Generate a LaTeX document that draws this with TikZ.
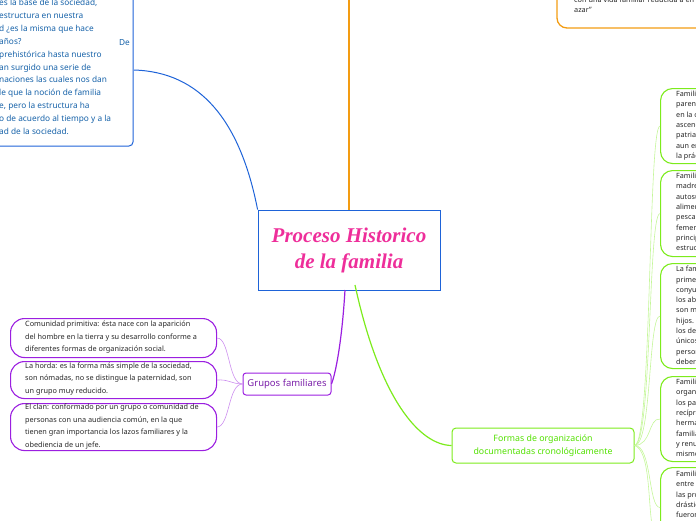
\documentclass[tikz,border=0pt]{standalone}
\usepackage{fontspec}
\setmainfont{Noto Sans}
\newfontfamily\titlefont{Liberation Serif}
\definecolor{bl}{HTML}{1E63D8}
\definecolor{bltxt}{HTML}{1561A8}
\definecolor{orn}{HTML}{F39C12}
\definecolor{pur}{HTML}{9B1FE0}
\definecolor{purtxt}{HTML}{7A1FA8}
\definecolor{grn}{HTML}{7CEB1C}
\definecolor{grntxt}{HTML}{52E000}
\definecolor{pink}{HTML}{EE2E9A}
\tikzset{
 lf/.style={anchor=west,inner sep=0,font=\fontsize{7.3}{12.5}\selectfont,align=left,text=black!85},
 rf/.style={anchor=north west,inner sep=0,font=\fontsize{7.2}{10.3}\selectfont,align=left,text=black!85},
 pbox/.style={draw=pur,line width=1.1pt,rounded corners=14pt},
 gbox/.style={draw=grn,line width=1.1pt,rounded corners=12pt},
 plink/.style={pur!50,line width=0.6pt},
 glink/.style={grn!45,line width=0.6pt},
}
\begin{document}
\begin{tikzpicture}[x=1pt,y=-1pt]
\useasboundingbox (0,0) rectangle (696,520);
\clip (0,0) rectangle (696,520);
% top-left blue box
\draw[bl,line width=1pt,rounded corners=4pt] (-150,-20) rectangle (133,146);
\node[anchor=north west,inner sep=0,text=bltxt,font=\bfseries\fontsize{8.3}{12.9}\selectfont,align=left] (bt) at (-1,-1) {es la base de la sociedad,\\ estructura en nuestra\\ d ¿es la misma que hace\\ años?\\ prehistórica hasta nuestro\\ an surgido una serie de\\ naciones las cuales nos dan\\ le que la noción de familia\\ e, pero la estructura ha\\ o de acuerdo al tiempo y a la\\ ad de la sociedad.};
\node[anchor=east,inner sep=0,text=bltxt,font=\bfseries\fontsize{8.3}{10}\selectfont] at (130,43) {De};
\coordinate (bA) at (134,70);
% title
\node[draw=bl,line width=0.8pt,minimum width=182,minimum height=80,inner sep=0,align=center,text=pink,font=\titlefont\bfseries\itshape\fontsize{21}{26}\selectfont] (T) at (349,250) {Proceso Historico\\de la familia};
\draw[bl,line width=1pt] (bA) .. controls (200,72) and (240,120) .. (T.north west);
% orange
\draw[orn,line width=1.5pt] (T.north) -- (349,-5);
\draw[orn,line width=1.3pt,rounded corners=10pt] (557,-30) rectangle (720,28);
\node[anchor=north west,inner sep=0,font=\fontsize{7.3}{9.5}\selectfont,align=left,text=black!85] at (574,-3) {con una vida familiar reducida a en\\azar"};
% purple
\node[draw=pur,line width=1pt,rounded corners=3pt,text=purtxt,font=\fontsize{9.5}{11}\selectfont,minimum width=88,minimum height=22,inner sep=2pt] (G) at (287,384) {Grupos familiares};
\draw[pur,line width=1.2pt] (345,290) .. controls (342,340) and (336,372) .. (G.east);
\node[pbox,minimum width=206,minimum height=39,anchor=north west] (g1) at (10,318) {};
\node[lf] at (25,337.5) {Comunidad primitiva: ésta nace con la aparición\\del hombre en la tierra y su desarrollo conforme a\\diferentes formas de organización social.};
\node[pbox,minimum width=206,minimum height=37,anchor=north west] (g2) at (10,361) {};
\node[lf] at (25,379) {La horda: es la forma más simple de la sociedad,\\son nómadas, no se distingue la paternidad, son\\un grupo muy reducido.};
\node[pbox,minimum width=206,minimum height=47,anchor=north west] (g3) at (10,403) {};
\node[lf] at (25,426.5) {El clan: conformado por un grupo o comunidad de\\personas con una audiencia común, en la que\\tienen gran importancia los lazos familiares y la\\obediencia de un jefe.};
\draw[plink] (G.west) .. controls (228,384) and (230,338) .. (g1.east);
\draw[plink] (G.west) .. controls (232,384) and (228,379) .. (g2.east);
\draw[plink] (G.west) .. controls (228,384) and (230,426) .. (g3.east);
% green
\node[draw=grn,line width=1pt,rounded corners=4pt,text=grntxt,font=\fontsize{8.8}{12.5}\selectfont,align=center,minimum width=182,minimum height=35,inner sep=1pt] (F) at (543,445.5) {Formas de organización\\documentadas cronológicamente};
\draw[grn,line width=1.2pt] (355,285) .. controls (380,400) and (420,445) .. (F.west);
\node[gbox,minimum width=80,minimum height=75,anchor=north west] (r1) at (660,88) {};
\node[rf] at (676,91) {Familia\\parentesco\\en la cual\\ascendencia\\patriarcal\\aun en\\la práctica};
\node[gbox,minimum width=80,minimum height=86,anchor=north west] (r2) at (660,170) {};
\node[rf] at (676,173) {Familia\\madre\\autosuficiente\\alimentos\\pesca\\femenina\\principal\\estructura};
\node[gbox,minimum width=80,minimum height=105,anchor=north west] (r3) at (660,263) {};
\node[rf] at (676,266) {La familia\\primera\\conyugal\\los abuelos\\son más\\hijos.\\los deberes\\únicos\\personas\\deberes};
\node[gbox,minimum width=80,minimum height=85,anchor=north west] (r4) at (660,376) {};
\node[rf] at (676,379) {Familia\\organización\\los padres\\recíproca\\hermanos\\familia\\y renuncia\\mismo};
\node[gbox,minimum width=80,minimum height=80,anchor=north west] (r5) at (660,467) {};
\node[rf] at (676,471) {Familia\\entre\\las propias\\drásticas\\fueron};
\draw[glink] (F.east) .. controls (652,445) and (648,126) .. (r1.west);
\draw[glink] (F.east) .. controls (652,445) and (648,213) .. (r2.west);
\draw[glink] (F.east) .. controls (652,445) and (648,316) .. (r3.west);
\draw[glink] (F.east) .. controls (652,445) and (648,418) .. (r4.west);
\draw[glink] (F.east) .. controls (652,445) and (648,507) .. (r5.west);
\draw[glink] (F.east) .. controls (650,450) and (648,500) .. (652,525);
\end{tikzpicture}
\end{document}
